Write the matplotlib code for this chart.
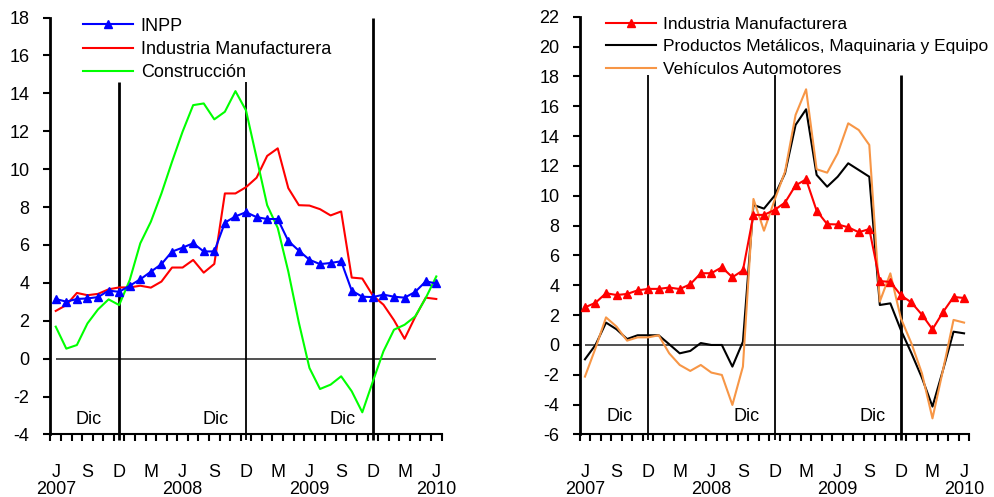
import numpy as np
import matplotlib
matplotlib.use('Agg')
import matplotlib.pyplot as plt

plt.rcParams['font.family'] = ['Liberation Sans', 'DejaVu Sans']
plt.rcParams['axes.unicode_minus'] = False

# monthly, Jun 2007 .. Jun 2010
n_months = 37
tick_pos = [0, 3, 6, 9, 12, 15, 18, 21, 24, 27, 30, 33, 36]
tick_labels = ['J\n2007', 'S', 'D', 'M', 'J\n2008', 'S', 'D', 'M', 'J\n2009', 'S', 'D', 'M', 'J\n2010']
dec_pos = [6, 18, 30]

inpp = [3.15, 3.01, 3.15, 3.18, 3.25, 3.59, 3.53, 3.85, 4.19, 4.59, 4.99, 5.65, 5.86,
        6.09, 5.66, 5.66, 7.18, 7.51, 7.73, 7.47, 7.37, 7.37, 6.21, 5.70, 5.22, 4.99,
        5.05, 5.14, 3.59, 3.27, 3.25, 3.38, 3.27, 3.22, 3.52, 4.08, 3.97]
manufacturera = [2.52, 2.83, 3.47, 3.35, 3.42, 3.66, 3.76, 3.76, 3.85, 3.75, 4.07, 4.81, 4.81,
                 5.21, 4.54, 5.00, 8.72, 8.72, 9.05, 9.55, 10.70, 11.10, 9.00, 8.10, 8.08, 7.89,
                 7.56, 7.77, 4.28, 4.23, 3.33, 2.85, 2.03, 1.05, 2.20, 3.22, 3.15]
construccion = [1.69, 0.53, 0.72, 1.86, 2.60, 3.13, 2.83, 4.15, 6.09, 7.23, 8.72, 10.39, 11.98,
                13.38, 13.47, 12.63, 13.03, 14.12, 13.10, 10.60, 8.10, 6.90, 4.60, 1.90, -0.49, -1.60,
                -1.37, -0.93, -1.72, -2.83, -1.20, 0.39, 1.53, 1.79, 2.23, 3.20, 4.34]
metalicos = [-0.96, 0.0, 1.50, 1.05, 0.40, 0.65, 0.65, 0.65, 0.05, -0.56, -0.40, 0.13, 0.0,
             0.0, -1.45, 0.22, 9.39, 9.14, 10.00, 11.51, 14.75, 15.80, 11.40, 10.61, 11.28, 12.18,
             11.73, 11.28, 2.68, 2.79, 1.00, -0.55, -2.20, -4.13, -1.68, 0.89, 0.78]
vehiculos = [-2.12, -0.22, 1.85, 1.23, 0.29, 0.51, 0.51, 0.65, -0.56, -1.34, -1.74, -1.34, -1.85,
             -2.01, -4.02, -1.45, 9.79, 7.66, 9.70, 11.62, 15.42, 17.14, 11.78, 11.55, 12.85, 14.86,
             14.41, 13.41, 2.91, 4.80, 1.79, 0.11, -1.90, -4.92, -1.68, 1.68, 1.50]

x = np.arange(n_months)

fig = plt.figure(figsize=(9.95, 4.97), dpi=100)
ax1 = fig.add_axes([0.0507, 0.1258, 0.3931, 0.8388])
ax2 = fig.add_axes([0.5826, 0.1258, 0.3916, 0.8404])


def style_axes(ax, ylo, yhi, ypad):
    ax.set_xlim(-0.5, n_months - 0.5)
    ax.set_ylim(ylo, yhi)
    ax.set_yticks(np.arange(ylo, yhi + 1, 2))
    for s in ['top', 'right']:
        ax.spines[s].set_visible(False)
    ax.spines['left'].set_linewidth(2.0)
    ax.spines['bottom'].set_linewidth(1.5)
    ax.tick_params(axis='y', direction='out', length=5, width=1.5, labelsize=13, pad=ypad)
    ax.set_xticks(tick_pos)
    ax.set_xticklabels(tick_labels, linespacing=1.05)
    ax.set_xticks(np.arange(-0.5, n_months, 1), minor=True)
    ax.tick_params(axis='x', which='major', length=0, labelsize=13, pad=21)
    ax.tick_params(axis='x', which='minor', direction='out', length=5, width=1.5)
    ax.hlines(0, x[0], x[-1], color='#333333', lw=1.2, zorder=1)


# left panel
style_axes(ax1, -4, 18, 10)
ax1.vlines(dec_pos[0], -4.3, 14.58, color='black', lw=2.0, clip_on=False)
ax1.vlines(dec_pos[1], -4.3, 14.58, color='black', lw=1.3, clip_on=False)
ax1.vlines(dec_pos[2], -4.3, 18, color='black', lw=2.0, clip_on=False)
ax1.plot(x, inpp, color='#0000FF', lw=1.5, marker='^', ms=6, label='INPP', zorder=4)
ax1.plot(x, manufacturera, color='#FF0000', lw=1.5, label='Industria Manufacturera', zorder=3)
ax1.plot(x, construccion, color='#00FF00', lw=1.5, label='Construcción', zorder=3)
for p in dec_pos:
    ax1.text(p - 2.9, -3.2, 'Dic', ha='center', va='center', fontsize=13)
ax1.legend(loc='upper left', bbox_to_anchor=(0.083, 1.0), frameon=False, fontsize=13,
           handlelength=2.8, handletextpad=0.4, labelspacing=0.35, borderpad=0,
           borderaxespad=0, numpoints=1)

# right panel
style_axes(ax2, -6, 22, 9.5)
ax2.vlines(dec_pos[0], -6.4, 18.1, color='black', lw=1.3, clip_on=False)
ax2.vlines(dec_pos[1], -6.4, 18.1, color='black', lw=1.3, clip_on=False)
ax2.vlines(dec_pos[2], -6.4, 18.1, color='black', lw=2.0, clip_on=False)
ax2.plot(x, manufacturera, color='#FF0000', lw=1.5, marker='^', ms=6,
         label='Industria Manufacturera', zorder=4)
ax2.plot(x, metalicos, color='black', lw=1.5, label='Productos Metálicos, Maquinaria y Equipo', zorder=3)
ax2.plot(x, vehiculos, color='#F79646', lw=1.5, label='Vehículos Automotores', zorder=3)
for p in dec_pos:
    ax2.text(p - 2.7, -4.8, 'Dic', ha='center', va='center', fontsize=13)
ax2.legend(loc='upper left', bbox_to_anchor=(0.0675, 1.0), frameon=False, fontsize=12.5,
           handlelength=2.9, handletextpad=0.4, labelspacing=0.42, borderpad=0,
           borderaxespad=0, numpoints=1)

fig.savefig('out.png', dpi=100)
